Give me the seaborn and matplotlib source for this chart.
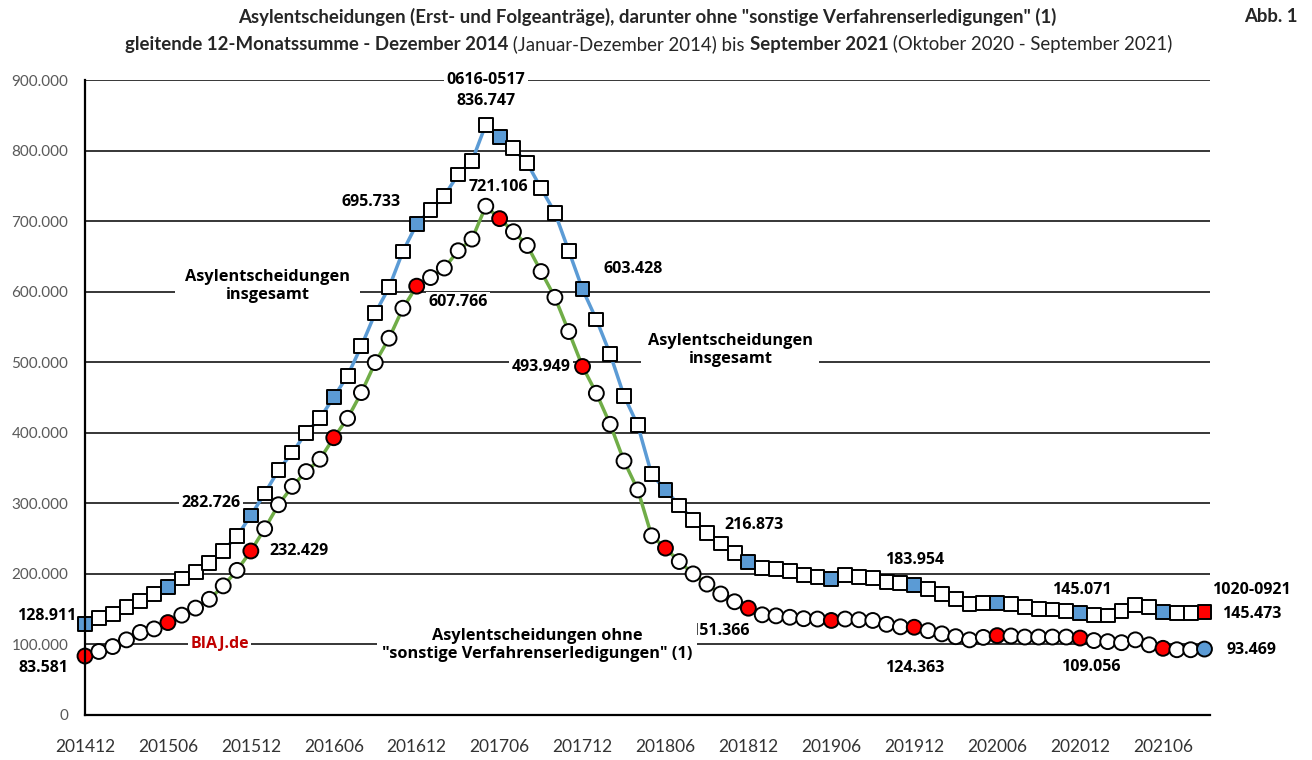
import matplotlib
matplotlib.use('Agg')
import matplotlib.pyplot as plt
import seaborn as sns
import numpy as np
import pandas as pd

# gleitende 12-Monatssumme, Dez 2014 bis Sep 2021
monate = pd.period_range('2014-12', '2021-09', freq='M').strftime('%Y%m').tolist()

insgesamt = [
    128911, 137000, 143000, 153500, 162000, 171500, 181000, 193500, 203000, 215000,
    233000, 253500, 282726, 314000, 347000, 372000, 400000, 420500, 450500, 481000,
    523000, 569500, 606000, 657000, 695733, 716000, 736000, 766000, 785000, 836747,
    819000, 803000, 782000, 746500, 712000, 658000, 603428, 560500, 511500, 452500,
    410500, 341000, 319000, 297000, 277000, 258000, 243000, 229000, 216873, 208000,
    206500, 204500, 198500, 196000, 192500, 198500, 196000, 194000, 189000, 186500,
    183954, 178000, 171500, 164000, 157500, 158500, 158500, 157500, 153000, 150500,
    149500, 147500, 145071, 142000, 141000, 148000, 156000, 152500, 145500, 144500,
    144500, 145473,
]

ohne_sonstige = [
    83581, 90000, 97000, 106500, 117000, 122000, 131000, 141500, 151500, 164000,
    183000, 205000, 232429, 264000, 298000, 324000, 345000, 362500, 393000, 420500,
    457000, 499500, 534000, 576500, 607766, 620000, 633500, 658000, 674500, 721106,
    703500, 685000, 665500, 628500, 592000, 543500, 493949, 456000, 412000, 360000,
    319000, 254000, 236500, 217500, 200000, 185500, 171500, 160500, 151366, 142000,
    140500, 138500, 136500, 136000, 134000, 136000, 135000, 134000, 128500, 125000,
    124363, 119500, 115000, 111000, 106500, 110000, 112500, 112000, 110500, 110500,
    110500, 110500, 109056, 105500, 104000, 102500, 106500, 99500, 94500, 92500,
    92500, 93469,
]

tick_labels = ['201412', '201506', '201512', '201606', '201612', '201706', '201712',
               '201806', '201812', '201906', '201912', '202006', '202012', '202106']

df = pd.DataFrame({'monat': monate, 'idx': range(len(monate)),
                   'insgesamt': insgesamt, 'ohne': ohne_sonstige})
df['markierung'] = np.where(df['idx'] % 6 == 0, 'halbjahr', 'normal')
df.loc[df.index[-1], 'markierung'] = 'letzter'

sns.set_style('white')
plt.rcParams['font.family'] = ['Lato', 'DejaVu Sans']

blau = '#5B9BD5'
gruen = '#70AD47'
rot = '#FF0000'

fig = plt.figure(figsize=(13.12, 7.6), dpi=100)
ax = fig.add_axes([85 / 1312, 45 / 760, 1125 / 1312, 635 / 760])

sns.lineplot(data=df, x='idx', y='insgesamt', color=blau, lw=2.5, ax=ax, zorder=4)
sns.lineplot(data=df, x='idx', y='ohne', color=gruen, lw=2.5, ax=ax, zorder=4)
sns.scatterplot(data=df, x='idx', y='insgesamt', hue='markierung',
                palette={'normal': 'white', 'halbjahr': blau, 'letzter': rot},
                marker='s', s=100, edgecolor='black', linewidth=1.4,
                legend=False, zorder=5, clip_on=False, ax=ax)
sns.scatterplot(data=df, x='idx', y='ohne', hue='markierung',
                palette={'normal': 'white', 'halbjahr': rot, 'letzter': blau},
                marker='o', s=115, edgecolor='black', linewidth=1.4,
                legend=False, zorder=5, clip_on=False, ax=ax)

ax.set_xlim(0, 81.4)
ax.set_ylim(0, 900000)
ax.set_xticks(range(0, 82, 6))
ax.set_xticklabels(tick_labels)
yt = list(range(0, 900001, 100000))
ax.set_yticks(yt)
ax.set_yticklabels([f'{v:,.0f}'.replace(',', '.') for v in yt])
ax.set_xlabel('')
ax.set_ylabel('')

for s in ['top', 'right']:
    ax.spines[s].set_visible(False)
for s in ['left', 'bottom']:
    ax.spines[s].set_color('black')
    ax.spines[s].set_linewidth(1.6)
    ax.spines[s].set_zorder(6)

ax.tick_params(axis='x', direction='in', length=6, width=1.2, color='black',
               pad=17, labelsize=12.5, labelcolor='#333333')
ax.tick_params(axis='y', length=0, pad=12, labelsize=11, labelcolor='#595959')
ax.yaxis.grid(True, color='black', lw=1.1)
ax.xaxis.grid(False)
ax.set_axisbelow(True)

lab_font = ['Open Sans', 'DejaVu Sans']


def label(x, y, text, color='black', pad=0.15, z=3, size=11.5):
    ax.text(x, y, text, ha='center', va='center', fontsize=size, fontweight='bold',
            family=lab_font, color=color, zorder=z, clip_on=False,
            bbox=dict(boxstyle=f'square,pad={pad}', fc='white', ec='none'))


label(29.0, 900000, '0616-0517')
label(29.0, 870000, '836.747')
label(20.7, 727000, '695.733')
label(29.9, 748000, '721.106')
label(39.65, 632000, '603.428')
label(27.0, 585000, '607.766')
label(33.0, 493000, '493.949')
label(9.1, 300000, '282.726')
label(15.5, 232000, '232.429')
label(-2.74, 140000, '128.911')
label(-3.03, 66600, '83.581')
label(48.4, 269000, '216.873')
label(60.06, 219600, '183.954')
label(45.9, 119000, '151.366')
label(60.0, 66600, '124.363')
label(72.1, 177000, '145.071')
label(72.8, 68000, '109.056')
label(84.4, 177000, '1020-0921')
label(84.4, 143000, '145.473')
label(84.4, 92000, '93.469')
label(9.73, 100000, 'BIAJ.de', color='#C00000')
label(13.2, 608000, 'Asylentscheidungen\ninsgesamt', pad=0.6, size=11.8)
label(46.7, 517000, 'Asylentscheidungen\ninsgesamt', pad=0.4, size=11.8)
label(32.7, 99000, 'Asylentscheidungen ohne\n"sonstige Verfahrenserledigungen" (1)',
      pad=0.3, z=3.5, size=11.8)

# Titel
fig.text(647 / 1312, 1 - 17 / 760,
         'Asylentscheidungen (Erst- und Folgeanträge), darunter ohne '
         '"sonstige Verfahrenserledigungen" (1)',
         ha='center', va='center', fontsize=13.4, fontweight='bold')
fig.text(1271 / 1312, 1 - 17 / 760, 'Abb. 1', ha='center', va='center',
         fontsize=13.4, fontweight='bold')

teile = [('gleitende 12-Monatssumme - Dezember 2014', 'bold'),
         (' (Januar-Dezember 2014) bis ', 'normal'),
         ('September 2021', 'bold'),
         (' (Oktober 2020 - September 2021)', 'normal')]
prev = fig.text(125 / 1312, 1 - 53 / 760, teile[0][0], ha='left', va='bottom',
                fontsize=13.4, fontweight=teile[0][1])
for txt, fw in teile[1:]:
    prev = ax.annotate(txt, xy=(1, 0), xycoords=prev, ha='left', va='bottom',
                       fontsize=13.4, fontweight=fw, annotation_clip=False)

fig.savefig('out.png', dpi=100)
